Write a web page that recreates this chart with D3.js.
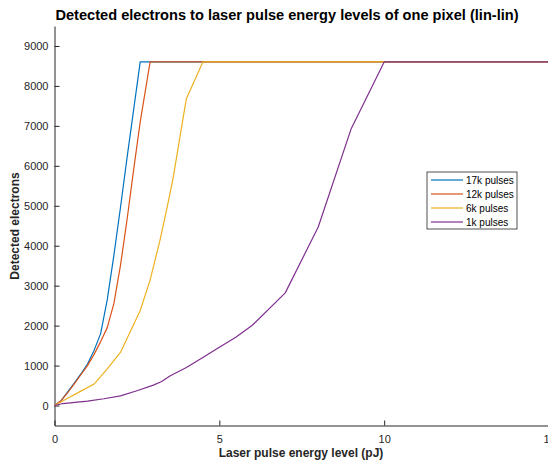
<!DOCTYPE html>
<html>
<head>
<meta charset="utf-8">
<script src="https://cdn.jsdelivr.net/npm/d3@7"></script>
<style>
  body { margin: 0; background: #fff; }
  svg { display: block; font-family: "Liberation Sans", Arial, Helvetica, sans-serif; }
  .axis path, .axis line { stroke: #262626; }
  .axis text { fill: #262626; font-size: 11px; }
</style>
</head>
<body>
<div id="chart"></div>
<script>
// series values (energy in pJ, detected electrons)
var seriesNames = ["17k pulses", "12k pulses", "6k pulses", "1k pulses"];
var seriesColors = ["#0072BD", "#D95319", "#EDB120", "#7E2F8E"];

var energy17k = [0, 0.2, 0.4, 0.6, 0.8, 1.0, 1.2, 1.4, 1.6, 1.8, 2.0, 2.2, 2.4, 2.6, 15];
var electrons17k = [0, 120, 340, 560, 790, 1040, 1380, 1800, 2650, 3750, 4950, 6200, 7400, 8600, 8600];

var energy12k = [0, 0.2, 0.4, 0.6, 0.8, 1.0, 1.2, 1.4, 1.6, 1.8, 2.0, 2.2, 2.4, 2.6, 2.9, 15];
var electrons12k = [0, 120, 320, 540, 770, 1000, 1280, 1600, 1950, 2550, 3500, 4650, 5900, 7100, 8600, 8600];

var energy6k = [0, 0.4, 0.8, 1.2, 1.6, 2.0, 2.6, 2.9, 3.2, 3.4, 3.6, 3.8, 4.0, 4.5, 15];
var electrons6k = [0, 180, 360, 537, 920, 1330, 2380, 3140, 4140, 4900, 5700, 6700, 7680, 8600, 8600];

var energy1k = [0, 0.25, 1, 1.5, 2, 2.5, 3, 3.25, 3.5, 4, 4.5, 5, 5.5, 6, 7, 8, 9, 10, 15];
var electrons1k = [0, 50, 110, 170, 240, 370, 510, 600, 740, 950, 1200, 1460, 1710, 2010, 2820, 4470, 6930, 8600, 8600];

var xTicks = [0, 5, 10, 15];
var yTicks = [0, 1000, 2000, 3000, 4000, 5000, 6000, 7000, 8000, 9000];

var allEnergy = [energy17k, energy12k, energy6k, energy1k];
var allElectrons = [electrons17k, electrons12k, electrons6k, electrons1k];

var width = 548, height = 464;
var plot = {left: 54.5, right: 549, top: 26, bottom: 425.5};

var svg = d3.select("#chart").append("svg")
    .attr("width", width)
    .attr("height", height);

var xScale = d3.scaleLinear().domain([0, 15]).range([plot.left, plot.right]);
var yScale = d3.scaleLinear().domain([-500, 9500]).range([plot.bottom, plot.top]);

// matlab style axes: ticks point inward, no box
var xAxis = d3.axisBottom(xScale).tickValues(xTicks).tickFormat(d3.format("d"))
    .tickSize(-5).tickPadding(10).tickSizeOuter(0);
var yAxis = d3.axisLeft(yScale).tickValues(yTicks).tickFormat(d3.format("d"))
    .tickSize(-5).tickPadding(10).tickSizeOuter(0);

svg.append("g")
    .attr("class", "axis")
    .attr("transform", "translate(0," + plot.bottom + ")")
    .call(xAxis);

svg.append("g")
    .attr("class", "axis")
    .attr("transform", "translate(" + plot.left + ",0)")
    .call(yAxis);

svg.selectAll(".axis .tick text").attr("dy", null);
svg.selectAll(".axis").each(function(d, i) {
  if (i == 0) d3.select(this).selectAll(".tick text").attr("y", 17.5);
  else d3.select(this).selectAll(".tick text").attr("x", -6).attr("dy", "0.35em");
});

// lines
var line = d3.line()
    .x(d => xScale(d[0]))
    .y(d => yScale(d[1]));

for (var s = 0; s < seriesNames.length; s++) {
  var pts = allEnergy[s].map((e, i) => [e, allElectrons[s][i]]);
  svg.append("path")
      .datum(pts)
      .attr("fill", "none")
      .attr("stroke", seriesColors[s])
      .attr("stroke-width", 1.2)
      .attr("stroke-linejoin", "round")
      .attr("d", line);
}

// title and labels
svg.append("text")
    .attr("x", 287)
    .attr("y", 20)
    .attr("text-anchor", "middle")
    .style("font-size", "14.6px")
    .style("font-weight", "bold")
    .style("fill", "#000")
    .text("Detected electrons to laser pulse energy levels of one pixel (lin-lin)");

svg.append("text")
    .attr("x", 301)
    .attr("y", 457)
    .attr("text-anchor", "middle")
    .style("font-size", "12px")
    .style("font-weight", "bold")
    .style("fill", "#262626")
    .text("Laser pulse energy level (pJ)");

svg.append("text")
    .attr("transform", "translate(19,226) rotate(-90)")
    .attr("text-anchor", "middle")
    .style("font-size", "12px")
    .style("font-weight", "bold")
    .style("fill", "#262626")
    .text("Detected electrons");

// legend
var legend = svg.append("g").attr("transform", "translate(427,172)");
legend.append("rect")
    .attr("width", 90)
    .attr("height", 57)
    .attr("fill", "#fff")
    .attr("stroke", "#262626")
    .attr("stroke-width", 0.8);

seriesNames.forEach(function(name, i) {
  var yy = 8 + i * 14;
  legend.append("line")
      .attr("x1", 4).attr("x2", 36)
      .attr("y1", yy).attr("y2", yy)
      .attr("stroke", seriesColors[i])
      .attr("stroke-width", 1.2);
  legend.append("text")
      .attr("x", 39)
      .attr("y", yy)
      .attr("dy", "0.35em")
      .style("font-size", "10px")
      .style("fill", "#000")
      .text(name);
});
</script>
</body>
</html>
